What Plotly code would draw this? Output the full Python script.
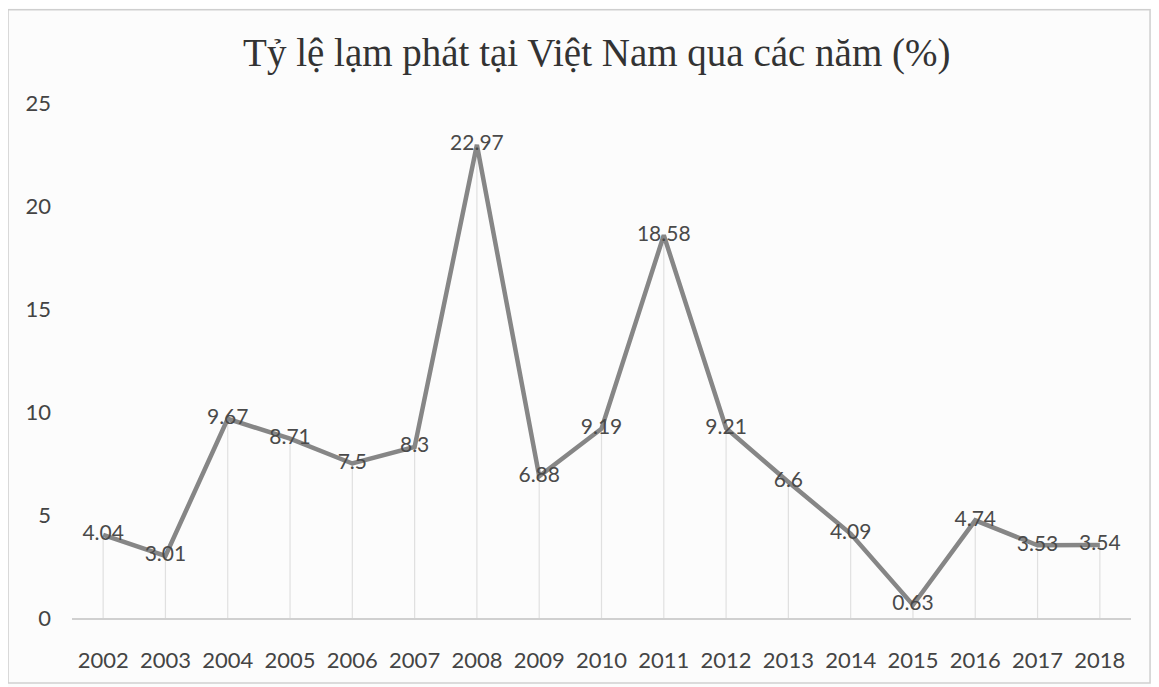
import plotly.graph_objects as go

years = ["2002", "2003", "2004", "2005", "2006", "2007", "2008", "2009", "2010",
         "2011", "2012", "2013", "2014", "2015", "2016", "2017", "2018"]
inflation = [4.04, 3.01, 9.67, 8.71, 7.5, 8.3, 22.97, 6.88, 9.19,
             18.58, 9.21, 6.6, 4.09, 0.63, 4.74, 3.53, 3.54]
labels = [("%g" % v) for v in inflation]
title_text = "Tỷ lệ lạm phát tại Việt Nam qua các năm (%)"

fig = go.Figure()

# faint drop lines from each point to the axis
fig.add_trace(go.Scatter(
    x=years, y=inflation, mode="markers",
    marker=dict(size=0.1, color="rgba(0,0,0,0)"),
    error_y=dict(type="data", symmetric=False, array=[0] * len(inflation),
                 arrayminus=inflation, color="#e0e0e0", thickness=1.2, width=0),
    hoverinfo="skip", showlegend=False,
))

fig.add_trace(go.Scatter(
    x=years, y=inflation, mode="lines+text",
    line=dict(color="#868686", width=4.5),
    text=labels, textposition="middle center",
    textfont=dict(family="Lato, Open Sans, sans-serif", size=21, color="#4a4a4a"),
    showlegend=False,
))

fig.update_layout(
    width=1159, height=687,
    paper_bgcolor="#fcfcfc", plot_bgcolor="#fcfcfc",
    margin=dict(l=64, r=36, t=95, b=77, autoexpand=False),
    title=dict(text=title_text, x=0.508, xanchor="center", y=0.936, yanchor="middle",
               font=dict(family="Liberation Serif, Times New Roman, serif", size=39, color="#333333")),
    xaxis=dict(type="category", range=[-0.5, len(years) - 0.5], showgrid=False, showline=True,
               linecolor="#d0d0d0", automargin=False, linewidth=1.5, ticks="",
               tickfont=dict(family="Lato, Open Sans, sans-serif", size=22, color="#444444"),
               ticklabelstandoff=22, zeroline=False),
    yaxis=dict(range=[0, 25], dtick=5, showgrid=False, showline=False, zeroline=False, automargin=False,
               tickfont=dict(family="Lato, Open Sans, sans-serif", size=22, color="#444444"),
               ticklabelstandoff=20, tickformat="d"),
    shapes=[dict(type="rect", xref="paper", yref="paper", x0=-0.0604, x1=1.018, y0=-0.126, y1=1.181,
                 line=dict(color="#cfcfcf", width=1.5), layer="below")],
)

fig.write_html("out.html")
